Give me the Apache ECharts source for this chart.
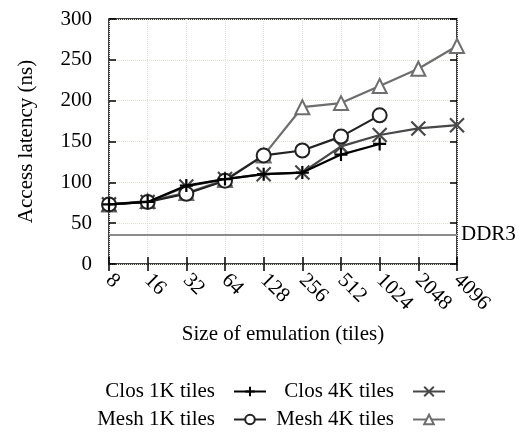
<!DOCTYPE html>
<html>
<head>
<meta charset="utf-8">
<script src="https://cdn.jsdelivr.net/npm/echarts@6/dist/echarts.min.js"></script>
<style>
	html,body{margin:0;padding:0;background:#fff;}
	#chart{width:520px;height:432px;}
</style>
</head>
<body>
<div id="chart"></div>
<script>
	// 横轴：模拟规模（tiles）
	var sizes = ['8','16','32','64','128','256','512','1024','2048','4096'];
	var clos1k = [73, 76, 96, 104, 110, 112, 134, 147];
	var clos4k = [73, 76, 95, 104, 110, 112, 144, 158, 166, 170];
	var mesh1k = [73, 76, 86, 102, 133, 139, 156, 182];
	var mesh4k = [73, 77, 87, 103, 133, 192, 197, 218, 239, 267];
	var ddr3 = 36;
	var yTicks = [0, 50, 100, 150, 200, 250, 300];

	var font = 'Liberation Serif';
	var fs = 21;
	var plusPath = 'path://M0,5L10,5M5,0L5,10';
	var crossPath = 'path://M0,0L10,10M10,0L0,10';

	function lineSeries(name, data, color, symbol, size, extra){
		var s = {
			name: name,
			type: 'line',
			data: data,
			symbol: symbol,
			symbolSize: size,
			lineStyle: {color: color, width: 2.2},
			itemStyle: {color: color, borderColor: color, borderWidth: 2.2},
			emphasis: {disabled: true},
			animation: false
		};
		for(var k in extra){ s[k] = extra[k]; }
		return s;
	}

	function legendAt(name, right, top){
		return {
			data: [name],
			right: right,
			top: top,
			align: 'right',
			itemWidth: 32,
			itemHeight: 12,
			padding: 0,
			textStyle: {fontFamily: font, fontSize: fs, color: '#000', padding: [0, 14, 0, 0]}
		};
	}

	var chart = echarts.init(document.getElementById('chart'));
	chart.setOption({
		backgroundColor: '#fff',
		animation: false,
		textStyle: {fontFamily: font},
		grid: {left: 109, right: 63, top: 19, bottom: 168, show: true, borderColor: '#000', borderWidth: 1.5},
		legend: [
			legendAt('Clos 1K tiles', 253, 381),
			legendAt('Clos 4K tiles', 74, 381),
			legendAt('Mesh 1K tiles', 253, 409),
			legendAt('Mesh 4K tiles', 74, 409)
		],
		xAxis: [{
			type: 'category',
			data: sizes,
			boundaryGap: false,
			name: 'Size of emulation (tiles)',
			nameLocation: 'middle',
			nameGap: 60,
			nameTextStyle: {fontFamily: font, fontSize: fs, color: '#000'},
			axisLine: {show: false},
			axisTick: {inside: true, length: 7, lineStyle: {color: '#000', width: 1.5}},
			axisLabel: {rotate: -45, fontFamily: font, fontSize: fs, color: '#000', margin: 13, interval: 0},
			splitLine: {show: true, lineStyle: {type: 'dotted', color: '#e0e0d2'}}
		},{
			type: 'category',
			data: sizes,
			position: 'top',
			boundaryGap: false,
			axisLine: {show: false},
			axisTick: {inside: true, length: 7, lineStyle: {color: '#000', width: 1.5}},
			axisLabel: {show: false}
		}],
		yAxis: [{
			type: 'value',
			min: 0,
			max: 300,
			interval: 50,
			name: 'Access latency (ns)',
			nameLocation: 'middle',
			nameGap: 72,
			nameTextStyle: {fontFamily: font, fontSize: fs, color: '#000'},
			axisLine: {show: false},
			axisTick: {show: true, inside: true, length: 7, lineStyle: {color: '#000', width: 1.5}},
			axisLabel: {fontFamily: font, fontSize: fs, color: '#000', margin: 17,
				formatter: function(v){ return yTicks.indexOf(v) >= 0 ? String(v) : ''; }},
			splitLine: {show: true, lineStyle: {type: 'dotted', color: '#e0e0d2'}}
		},{
			type: 'value',
			min: 0,
			max: 300,
			interval: 50,
			position: 'right',
			axisLine: {show: false},
			axisTick: {show: true, inside: true, length: 7, lineStyle: {color: '#000', width: 1.5}},
			axisLabel: {show: false},
			splitLine: {show: false}
		}],
		series: [
			lineSeries('Clos 1K tiles', clos1k, '#000000', plusPath, 13, {z: 5,
				markLine: {
					silent: true,
					symbol: ['none', 'none'],
					lineStyle: {color: '#8c8c8c', width: 2.2, type: 'solid'},
					label: {show: true, position: 'end', formatter: 'DDR3', fontFamily: font, fontSize: fs, color: '#000', distance: 4},
					data: [{yAxis: ddr3}]
				}}),
			lineSeries('Clos 4K tiles', clos4k, '#484848', crossPath, 14, {z: 3}),
			lineSeries('Mesh 1K tiles', mesh1k, '#222222', 'emptyCircle', 14, {z: 4}),
			lineSeries('Mesh 4K tiles', mesh4k, '#6e6e6e', 'emptyTriangle', 14, {z: 2})
		]
	});
</script>
</body>
</html>
